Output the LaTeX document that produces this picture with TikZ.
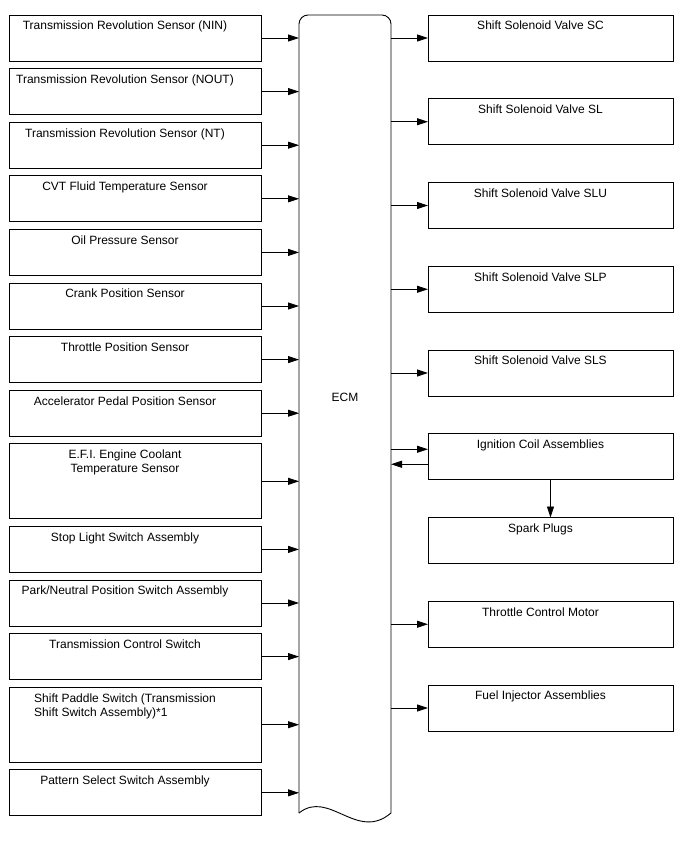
\documentclass[tikz,border=0pt]{standalone}
\usepackage{fontspec}
\setmainfont{Liberation Sans}
\usetikzlibrary{positioning,arrows.meta}

\begin{document}
\begin{tikzpicture}[x=1pt,y=1pt,
  node distance=7.6pt,
  inbox/.style={draw,line width=0.9pt,minimum width=252pt,minimum height=46pt,inner sep=0pt,outer sep=0pt},
  tallbox/.style={minimum height=75pt},
  outbox/.style={draw,line width=0.9pt,minimum width=245pt,minimum height=46pt,inner sep=0pt,outer sep=0pt},
  txt/.style={anchor=north,xshift=-10pt,yshift=-6pt,inner sep=0pt,
              font=\fontsize{12}{14}\selectfont},
  arr/.style={-{Triangle[length=11pt,width=7pt]},line width=0.8pt}]
\useasboundingbox[fill=white] (0,0) rectangle (688,-852);

% inputs
\node[inbox,anchor=north west,label={[txt]north:{Transmission Revolution Sensor (NIN)}}] (nin) at (9,-15) {};
\node[inbox,below=of nin,label={[txt]north:{Transmission Revolution Sensor (NOUT)}}] (nout) {};
\node[inbox,below=of nout,label={[txt]north:{Transmission Revolution Sensor (NT)}}] (nt) {};
\node[inbox,below=of nt,label={[txt]north:{CVT Fluid Temperature Sensor}}] (cvt) {};
\node[inbox,below=of cvt,label={[txt]north:{Oil Pressure Sensor}}] (oil) {};
\node[inbox,below=of oil,label={[txt]north:{Crank Position Sensor}}] (crank) {};
\node[inbox,below=of crank,label={[txt]north:{Throttle Position Sensor}}] (tps) {};
\node[inbox,below=of tps,label={[txt]north:{Accelerator Pedal Position Sensor}}] (accel) {};
\node[inbox,tallbox,below=of accel,label={[txt,align=center]north:{E.F.I. Engine Coolant\\Temperature Sensor}}] (efi) {};
\node[inbox,below=of efi,label={[txt]north:{Stop Light Switch Assembly}}] (stop) {};
\node[inbox,below=of stop,label={[txt]north:{Park/Neutral Position Switch Assembly}}] (pnp) {};
\node[inbox,below=of pnp,label={[txt]north:{Transmission Control Switch}}] (tcs) {};
\node[inbox,tallbox,below=of tcs,label={[txt,align=left]north:{Shift Paddle Switch (Transmission\\Shift Switch Assembly)*1}}] (paddle) {};
\node[inbox,below=of paddle,label={[txt]north:{Pattern Select Switch Assembly}}] (pattern) {};

% ECM
\node[minimum width=92pt,minimum height=798pt,inner sep=0pt,outer sep=0pt] (ecm) at (345,-414) {};
\draw[line width=0.9pt,rounded corners=9pt] (ecm.south west) -- (ecm.north west) -- (ecm.north east) -- (ecm.south east);
\draw[line width=0.9pt] (ecm.south west) .. controls +(30,24) and +(-34,-29) .. (ecm.south east);
\node[font=\fontsize{12}{14}\selectfont] (ecmlbl) at ([yshift=17pt]ecm.center) {ECM};

% outputs
\node[outbox,anchor=north west,label={[txt]north:{Shift Solenoid Valve SC}}] (sc) at (428,-15) {};
\node[outbox,below=37.75pt of sc,label={[txt]north:{Shift Solenoid Valve SL}}] (sl) {};
\node[outbox,below=37.75pt of sl,label={[txt]north:{Shift Solenoid Valve SLU}}] (slu) {};
\node[outbox,below=37.75pt of slu,label={[txt]north:{Shift Solenoid Valve SLP}}] (slp) {};
\node[outbox,below=37.75pt of slp,label={[txt]north:{Shift Solenoid Valve SLS}}] (sls) {};
\node[outbox,below=37.75pt of sls,label={[txt]north:{Ignition Coil Assemblies}}] (ign) {};
\node[outbox,below=37.75pt of ign,label={[txt]north:{Spark Plugs}}] (spark) {};
\node[outbox,below=37.75pt of spark,label={[txt]north:{Throttle Control Motor}}] (thr) {};
\node[outbox,below=37.75pt of thr,label={[txt]north:{Fuel Injector Assemblies}}] (inj) {};

% connections
\foreach \n in {nin,nout,nt,cvt,oil,crank,tps,accel,efi,stop,pnp,tcs,paddle,pattern}
  \draw[arr] (\n) -- (\n -| ecm.west);
\foreach \n in {sc,sl,slu,slp,sls,thr,inj}
  \draw[arr] (\n -| ecm.east) -- (\n);
\draw[arr] ([yshift=7.5pt]ign.west -| ecm.east) -- ([yshift=7.5pt]ign.west);
\draw[arr] ([yshift=-7.5pt]ign.west) -- ([yshift=-7.5pt]ign.west -| ecm.east);
\draw[arr] (ign) -- (spark);
\end{tikzpicture}
\end{document}
